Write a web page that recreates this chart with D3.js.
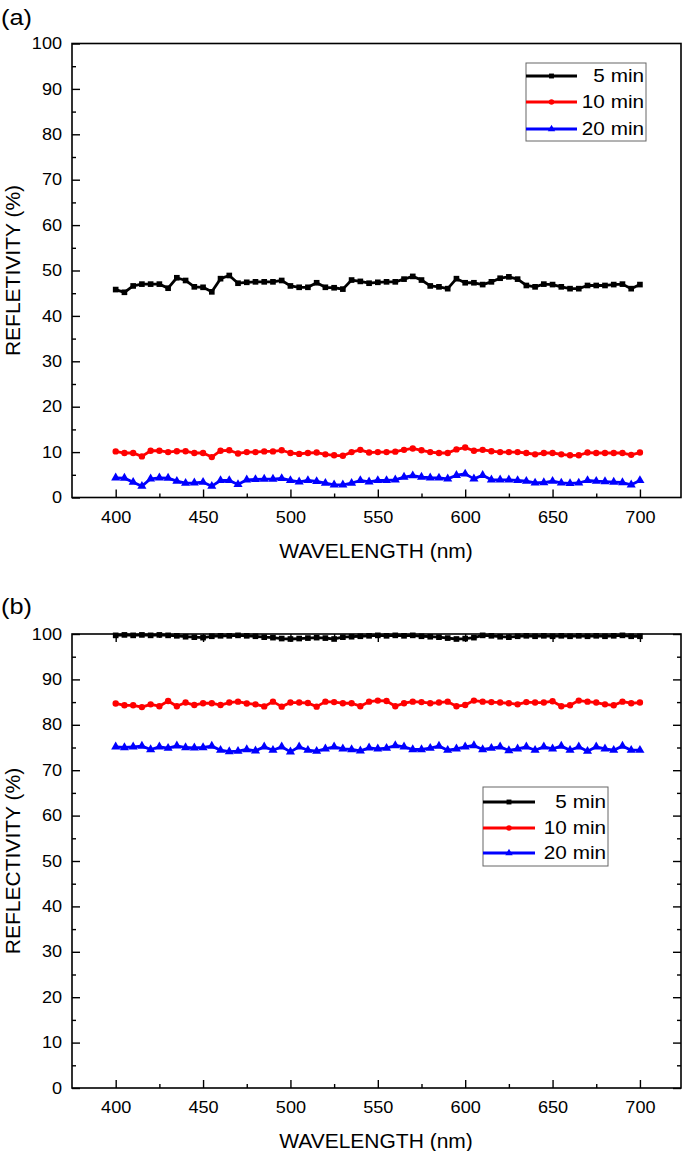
<!DOCTYPE html>
<html>
<head>
<meta charset="utf-8">
<script src="https://cdn.jsdelivr.net/npm/d3@7"></script>
<style>
  html, body { margin: 0; padding: 0; background: #fff; }
  svg { display: block; }
  text { font-family: "Liberation Sans", Arial, Helvetica, sans-serif; fill: #000; }
</style>
</head>
<body>
<svg id="chart" width="685" height="1151"></svg>
<script>
// ---------------- DATA ----------------
const wavelength = [400,405,410,415,420,425,430,435,440,445,450,455,460,465,470,475,480,485,490,495,
  500,505,510,515,520,525,530,535,540,545,550,555,560,565,570,575,580,585,590,595,
  600,605,610,615,620,625,630,635,640,645,650,655,660,665,670,675,680,685,690,695,700];

const seriesNames = ["5 min", "10 min", "20 min"];
const xTickValues = [400, 450, 500, 550, 600, 650, 700];
const yTickValues = [0, 10, 20, 30, 40, 50, 60, 70, 80, 90, 100];

// Panel (a)
const a5min = [45.8,45.2,46.6,47.0,47.0,47.0,46.1,48.4,47.8,46.4,46.3,45.3,48.2,48.9,47.2,47.4,47.5,47.5,47.5,47.8,
  46.6,46.3,46.3,47.3,46.3,46.2,45.9,47.9,47.6,47.2,47.4,47.5,47.5,48.1,48.7,47.9,46.6,46.4,46.0,48.2,
  47.3,47.3,46.9,47.5,48.3,48.6,48.1,46.7,46.4,47.0,46.9,46.4,46.0,46.0,46.7,46.7,46.7,46.9,47.0,46.0,46.9];
const a10min = [10.15,9.8,9.8,9.05,10.3,10.3,10.0,10.2,10.2,9.8,9.8,8.9,10.3,10.4,9.7,10.0,10.0,10.15,10.15,10.4,
  9.8,9.6,9.8,9.9,9.5,9.3,9.2,10.0,10.5,9.9,10.0,10.0,10.1,10.5,10.8,10.4,10.0,9.8,9.8,10.6,
  11.0,10.3,10.5,10.2,10.0,10.0,10.0,9.8,9.5,9.8,9.8,9.5,9.3,9.3,9.9,9.8,9.8,9.8,9.8,9.4,9.9];
const a20min = [4.34,4.27,3.38,2.5,4.12,4.34,4.27,3.6,3.16,3.24,3.38,2.5,3.75,3.75,2.87,3.9,3.97,4.05,4.05,4.2,
  3.75,3.46,3.75,3.53,3.16,2.8,2.8,3.16,3.75,3.46,3.75,3.75,3.9,4.5,4.8,4.5,4.35,4.3,4.1,4.9,
  5.2,4.1,4.9,3.9,3.9,3.9,3.75,3.6,3.2,3.3,3.6,3.2,3.1,3.2,3.75,3.6,3.5,3.4,3.3,2.8,3.75];

// Panel (b)
const b5min = [99.7,99.8,99.7,99.8,99.7,99.8,99.7,99.6,99.4,99.3,99.2,99.5,99.6,99.6,99.7,99.6,99.5,99.3,99.2,99.0,
  98.9,99.0,99.1,99.2,99.1,98.9,99.3,99.4,99.5,99.6,99.7,99.6,99.7,99.6,99.7,99.5,99.4,99.3,99.1,98.9,
  99.0,99.2,99.7,99.6,99.4,99.3,99.5,99.6,99.5,99.6,99.5,99.6,99.5,99.6,99.5,99.6,99.5,99.6,99.7,99.5,99.5];
const b10min = [84.7,84.3,84.3,83.9,84.5,84.1,85.25,84.1,84.9,84.35,84.75,84.75,84.35,84.9,85.1,84.7,84.5,84.05,85.1,84.0,
  84.9,84.9,84.8,84.0,85.1,85.0,84.75,84.75,84.1,85.1,85.33,85.25,84.1,84.75,85.1,85.0,84.75,84.9,85.1,84.1,
  84.35,85.33,85.1,85.0,84.9,84.75,84.5,85.0,84.9,84.9,85.2,84.1,84.3,85.33,85.1,84.9,84.5,84.3,85.1,84.75,84.9];
const b20min = [75.15,75.0,75.15,75.3,74.56,75.15,74.85,75.37,75.0,74.93,75.0,75.3,74.4,74.1,74.19,74.56,74.26,75.15,74.4,75.15,
  74.04,75.15,74.4,74.19,74.7,75.15,74.7,74.56,74.26,74.93,74.7,74.85,75.44,75.15,74.56,74.56,74.85,75.3,74.4,74.7,
  75.15,75.44,74.56,74.85,75.15,74.34,74.7,75.15,74.4,75.15,74.7,75.3,74.4,75.15,74.19,75.15,74.7,74.4,75.3,74.4,74.4];

// ---------------- DRAW ----------------
const svg = d3.select("#chart");
const colors = ["#000000", "#ff0000", "#0000ff"];
const symbols = [d3.symbolSquare, d3.symbolCircle, d3.symbolTriangle];
const symSizes = [32, 32, 36];

// widen glyphs horizontally (reference text is slightly stretched)
function stretch(sel, f) {
  sel.each(function () {
    const len = this.getComputedTextLength();
    if (len > 0) {
      d3.select(this).attr("textLength", len * f).attr("lengthAdjust", "spacingAndGlyphs");
    }
  });
}

function drawPanel(cfg) {
  const x = d3.scaleLinear().domain([375, 723.5]).range([72, 681]);
  const y = d3.scaleLinear().domain([0, 100]).range([cfg.bottom, cfg.top]);
  const g = svg.append("g");

  g.append("rect")
    .attr("x", x.range()[0]).attr("y", cfg.top)
    .attr("width", x.range()[1] - x.range()[0]).attr("height", cfg.bottom - cfg.top)
    .attr("fill", "none").attr("stroke", "#000").attr("stroke-width", 1.6);

  const xMinor = xTickValues.slice(0, -1).map(v => v + 25);
  const yMinor = yTickValues.slice(0, -1).map(v => v + 5);

  function styleAxis(sel) {
    sel.select(".domain").remove();
    sel.selectAll(".tick line").attr("stroke", "#000").attr("stroke-width", 1.4);
    sel.selectAll(".tick text").style("font-size", "16px").attr("fill", "#000");
  }

  const bx = g.append("g").attr("transform", `translate(0,${cfg.bottom})`)
    .call(d3.axisBottom(x).tickValues(xTickValues).tickFormat(d3.format("d")).tickSize(-8).tickPadding(14));
  styleAxis(bx);
  stretch(bx.selectAll(".tick text"), 1.13);
  const bxm = g.append("g").attr("transform", `translate(0,${cfg.bottom})`)
    .call(d3.axisBottom(x).tickValues(xMinor).tickFormat("").tickSize(-4));
  styleAxis(bxm);

  const ly = g.append("g").attr("transform", `translate(${x.range()[0]},0)`)
    .call(d3.axisLeft(y).tickValues(yTickValues).tickFormat(d3.format("d")).tickSize(-8).tickPadding(10));
  styleAxis(ly);
  stretch(ly.selectAll(".tick text"), 1.13);
  const lym = g.append("g").attr("transform", `translate(${x.range()[0]},0)`)
    .call(d3.axisLeft(y).tickValues(yMinor).tickFormat("").tickSize(-4));
  styleAxis(lym);

  if (cfg.mirror) {
    const tx = g.append("g").attr("transform", `translate(0,${cfg.top})`)
      .call(d3.axisTop(x).tickValues(xTickValues).tickFormat("").tickSize(-8));
    styleAxis(tx);
    const txm = g.append("g").attr("transform", `translate(0,${cfg.top})`)
      .call(d3.axisTop(x).tickValues(xMinor).tickFormat("").tickSize(-4));
    styleAxis(txm);
    const ry = g.append("g").attr("transform", `translate(${x.range()[1]},0)`)
      .call(d3.axisRight(y).tickValues(yTickValues).tickFormat("").tickSize(-8));
    styleAxis(ry);
    const rym = g.append("g").attr("transform", `translate(${x.range()[1]},0)`)
      .call(d3.axisRight(y).tickValues(yMinor).tickFormat("").tickSize(-4));
    styleAxis(rym);
  }

  const line = d3.line().x((d, i) => x(wavelength[i])).y(d => y(d));
  cfg.series.forEach((vals, k) => {
    g.append("path").datum(vals)
      .attr("d", line).attr("fill", "none")
      .attr("stroke", colors[k]).attr("stroke-width", 2.8).attr("stroke-linejoin", "round");
    g.selectAll(null).data(vals).enter().append("path")
      .attr("transform", (d, i) => `translate(${x(wavelength[i])},${y(d)})`)
      .attr("d", d3.symbol().type(symbols[k]).size(symSizes[k]))
      .attr("fill", colors[k]);
  });

  const L = cfg.legend;
  g.append("rect").attr("x", L.x).attr("y", L.y).attr("width", L.w).attr("height", L.h)
    .attr("fill", "#fff").attr("stroke", "#666").attr("stroke-width", 1);
  seriesNames.forEach((name, k) => {
    const ry = L.rows[k];
    g.append("line").attr("x1", L.x).attr("x2", L.x + L.lineLen)
      .attr("y1", ry).attr("y2", ry).attr("stroke", colors[k]).attr("stroke-width", 3);
    g.append("path").attr("transform", `translate(${L.x + L.lineLen / 2},${ry})`)
      .attr("d", d3.symbol().type(symbols[k]).size(24)).attr("fill", colors[k]);
    const t = g.append("text").attr("x", L.x + L.w - 2).attr("y", ry).attr("dy", "0.36em")
      .attr("text-anchor", "end").style("font-size", "18px").text(name);
    stretch(t, 1.15);
  });

  const xt = g.append("text").attr("x", 376).attr("y", cfg.bottom + 60)
    .attr("text-anchor", "middle").style("font-size", "20px").text("WAVELENGTH (nm)");
  stretch(xt, 1.05);
  const yt = g.append("text").attr("transform", `translate(20,${(cfg.top + cfg.bottom) / 2}) rotate(-90)`)
    .attr("text-anchor", "middle").style("font-size", "20px").text(cfg.yTitle);
  stretch(yt, 1.05);
  const lb = g.append("text").attr("x", 1).attr("y", cfg.labelY)
    .style("font-size", "22px").text(cfg.label);
  stretch(lb, 1.15);
}

drawPanel({
  top: 43.5, bottom: 497.5, mirror: false,
  series: [a5min, a10min, a20min],
  yTitle: "REFLETIVITY (%)", label: "(a)", labelY: 25,
  legend: { x: 526, y: 63, w: 120, h: 78, lineLen: 51, rows: [76, 102, 129] }
});
drawPanel({
  top: 634, bottom: 1088, mirror: true,
  series: [b5min, b10min, b20min],
  yTitle: "REFLECTIVITY (%)", label: "(b)", labelY: 614,
  legend: { x: 483, y: 787, w: 125, h: 79, lineLen: 52, rows: [802, 828, 853] }
});
</script>
</body>
</html>
